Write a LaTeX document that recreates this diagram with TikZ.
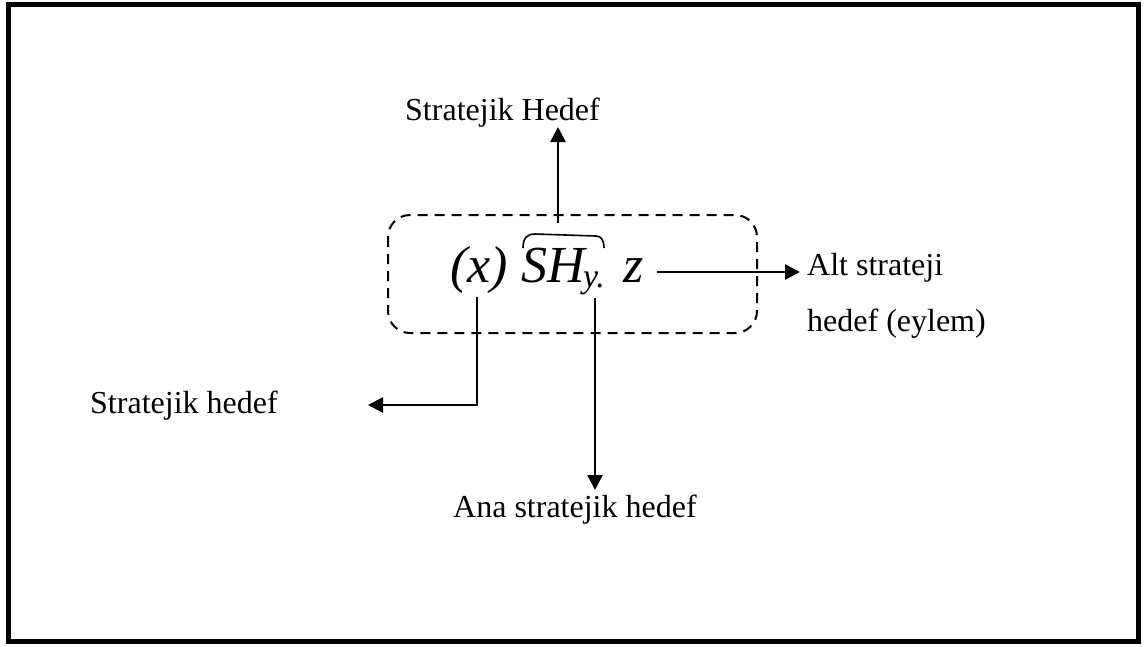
\documentclass[tikz,border=0pt]{standalone}
\usepackage{fontspec}
\setmainfont{Liberation Serif}
\usetikzlibrary{arrows.meta}
\begin{document}
\begin{tikzpicture}[x=1pt,y=-1pt,
  lbl/.style={anchor=base west,inner sep=0pt,font=\fontsize{32}{38}\selectfont},
  mth/.style={anchor=base west,inner sep=0pt,font=\fontsize{52}{60}\selectfont\itshape},
  sub/.style={anchor=base west,inner sep=0pt,font=\fontsize{34}{40}\selectfont\itshape},
  conn/.style={line width=2.5pt},
  arr/.style={conn,-{Triangle[length=15pt,width=15pt]}},
  dbox/.style={draw,line width=2pt,dash pattern=on 10pt off 7pt,rounded corners=22pt}]
\useasboundingbox (0,0) rectangle (1146,646);
\draw[line width=5pt] (8.5,4.5) rectangle (1138,641);
% dashed box
\draw[dbox] (388,215) rectangle (757,333);
% formula
\node[mth] (xp) at (450,282) {(x)};
\node[mth] (sh) at (521,282) {SH};
\node[sub] (ys) at (583,287) {y.};
\node[mth] (zz) at (623,282) {z};
\draw[line width=1.6pt] (523,248) .. controls (523,238) and (527,234) .. (535,234) -- (596,236) .. controls (601,236) and (604,240) .. (604,248);
% labels
\node[lbl] (top) at (405,120) {Stratejik Hedef};
\node[lbl] (alt1) at (807,275) {Alt strateji};
\node[lbl] (alt2) at (807,331) {hedef (eylem)};
\node[lbl] (left) at (90,413) {Stratejik hedef};
\node[lbl] (ana) at (453,517) {Ana stratejik hedef};
% connector coordinates
\coordinate (upS) at (558,223);
\coordinate (upE) at (558,127);
\coordinate (rS) at (657,272);
\coordinate (rE) at (800,272);
\coordinate (lS) at (477,297);
\coordinate (lC) at (477,405);
\coordinate (lE) at (368,405);
\coordinate (dS) at (595,298);
\coordinate (dE) at (595,490);
\draw[arr] (upS) -- (upE);
\draw[arr] (rS) -- (rE);
\draw[arr] (lS) -- (lC) -- (lE);
\draw[arr] (dS) -- (dE);
\end{tikzpicture}
\end{document}
